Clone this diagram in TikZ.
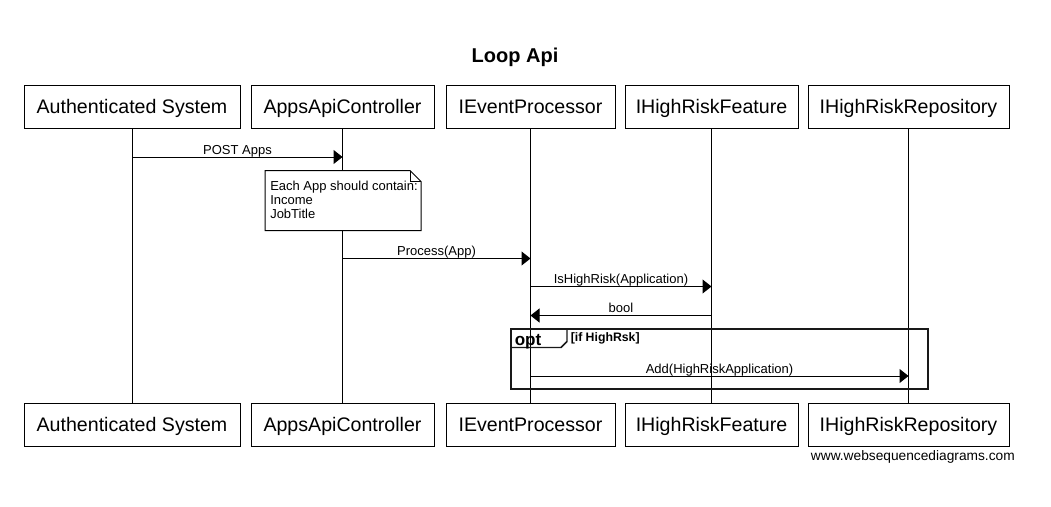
\documentclass[tikz,border=0pt]{standalone}
\usepackage{fontspec}
\setmainfont{Liberation Sans}
\usetikzlibrary{arrows.meta}
\begin{document}
\begin{tikzpicture}[x=0.75pt,y=-0.75pt,
  part/.style={draw,line width=0.75pt,fill=white,minimum height=32.25pt,inner sep=0pt,text height=13pt,text depth=2.5pt,font=\fontsize{14.7}{17}\selectfont},
  life/.style={line width=0.75pt},
  msg/.style={line width=0.75pt,-{Triangle[length=6.75pt,width=10.5pt]}},
  lbl/.style={font=\fontsize{9.75}{11}\selectfont,anchor=base,inner sep=0pt},
  notetxt/.style={font=\fontsize{9.75}{11}\selectfont,anchor=base west,inner sep=0pt},
  frame/.style={line width=1.5pt,black!90}]
\useasboundingbox (0,0) rectangle (1051,507);
\fill[white] (0,0) rectangle (1051,507);

\node[font=\bfseries\fontsize{15}{18}\selectfont,anchor=base,inner sep=0pt] (title) at (515,62) {Loop Api};

% top participants
\node[part,minimum width=162pt]    (A) at (132,106.5) {Authenticated System};
\node[part,minimum width=137.25pt] (B) at (342.5,106.5) {AppsApiController};
\node[part,minimum width=126.75pt] (C) at (530.5,106.5) {IEventProcessor};
\node[part,minimum width=129.75pt] (D) at (711.5,106.5) {IHighRiskFeature};
\node[part,minimum width=150.75pt] (E) at (908.5,106.5) {IHighRiskRepository};
% bottom participants
\node[part,minimum width=162pt]    (A2) at (132,424.5) {Authenticated System};
\node[part,minimum width=137.25pt] (B2) at (342.5,424.5) {AppsApiController};
\node[part,minimum width=126.75pt] (C2) at (530.5,424.5) {IEventProcessor};
\node[part,minimum width=129.75pt] (D2) at (711.5,424.5) {IHighRiskFeature};
\node[part,minimum width=150.75pt] (E2) at (908.5,424.5) {IHighRiskRepository};

% lifelines
\draw[life] (A.south) -- (A2.north);
\draw[life] (B.south) -- (B2.north);
\draw[life] (C.south) -- (C2.north);
\draw[life] (D.south) -- (D2.north);
\draw[life] (E.south) -- (E2.north);

% POST Apps
\draw[msg] (A.south |- 0,157) -- (B.south |- 0,157);
\node[lbl] (l1) at (237.5,154) {POST Apps};

% note
\draw[line width=0.75pt,fill=white] (265,170.5) -- (410,170.5) -- (421,181.5) -- (421,230.5) -- (265,230.5) -- cycle;
\draw[line width=0.75pt] (410,170.5) -- (410,181.5) -- (421,181.5);
\node[notetxt] (n1) at (270,190) {Each App should contain:};
\node[notetxt] (n2) at (270,204.3) {Income};
\node[notetxt] (n3) at (270,218.5) {JobTitle};

% Process(App)
\draw[msg] (B.south |- 0,258.5) -- (C.south |- 0,258.5);
\node[lbl] (l2) at (436.5,255.5) {Process(App)};

% IsHighRisk
\draw[msg] (C.south |- 0,286.5) -- (D.south |- 0,286.5);
\node[lbl] (l3) at (621,283.5) {IsHighRisk(Application)};

% bool
\draw[msg] (D.south |- 0,315.5) -- (C.south |- 0,315.5);
\node[lbl] (l4) at (621,312.5) {bool};

% opt frame
\draw[frame] (510.5,329) rectangle (928,388.5);
\draw[line width=1.1pt,black!90] (510.5,347.5) -- (561,347.5) -- (567,341.5) -- (567,329);
\node[font=\bfseries\fontsize{12.8}{14}\selectfont,anchor=base west,inner sep=0pt] (opt) at (514.5,345) {opt};
\node[font=\bfseries\fontsize{9.2}{11}\selectfont,anchor=base west,inner sep=0pt] (cond) at (570.5,341) {[if HighRsk]};

% Add
\draw[msg] (C.south |- 0,376) -- (E.south |- 0,376);
\node[lbl] (l5) at (719.5,373) {Add(HighRiskApplication)};

\node[font=\fontsize{10.3}{12}\selectfont,anchor=base east,inner sep=0pt] (wm) at (1015,460) {www.websequencediagrams.com};
\end{tikzpicture}
\end{document}
